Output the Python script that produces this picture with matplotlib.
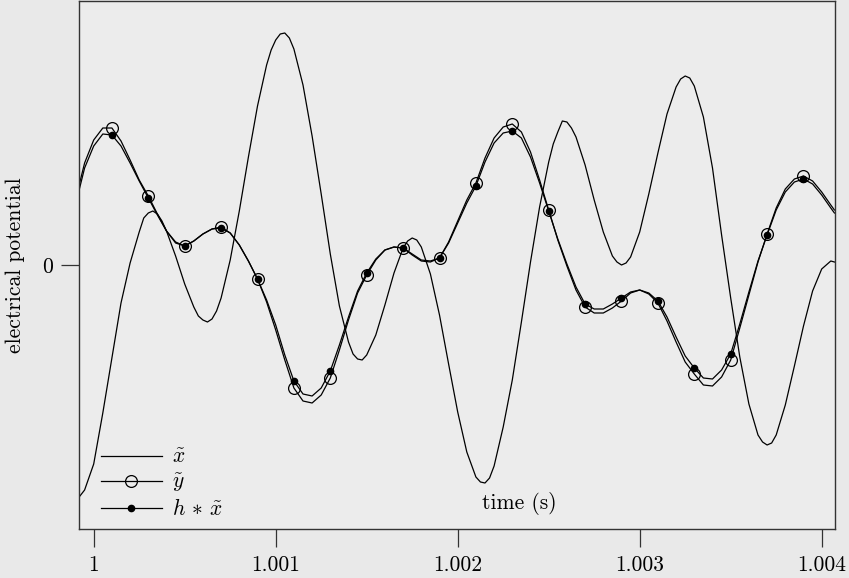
import numpy as np
import matplotlib
matplotlib.use('Agg')
import matplotlib.pyplot as plt
from matplotlib.lines import Line2D

plt.rcParams['font.family'] = ['cmr10', 'DejaVu Serif']
plt.rcParams['mathtext.fontset'] = 'cm'
plt.rcParams['axes.unicode_minus'] = False

# tempos (s) do sinal x~ (mais pontos perto dos picos)
t_x = [0.99992, 0.99995, 1.00000, 1.00005, 1.00010, 1.00015, 1.00020, 1.00025, 1.000275, 1.00030,
       1.000325, 1.00035, 1.000375, 1.00040, 1.00045, 1.00050, 1.00055, 1.000575, 1.00060, 1.000625,
       1.00065, 1.000675, 1.00070, 1.00075, 1.00080, 1.00085, 1.00090, 1.00095, 1.000975, 1.00100,
       1.001025, 1.00105, 1.001075, 1.00110, 1.00115, 1.00120, 1.00125, 1.00130, 1.00135, 1.00140,
       1.001425, 1.00145, 1.001475, 1.00150, 1.00155, 1.00160, 1.00165, 1.00170, 1.001725, 1.00175,
       1.001775, 1.00180, 1.00185, 1.00190, 1.00195, 1.00200, 1.00205, 1.00210, 1.002125, 1.00215,
       1.002175, 1.00220, 1.00225, 1.00230, 1.00235, 1.00240, 1.00245, 1.00250, 1.002525, 1.00255,
       1.002575, 1.00260, 1.002625, 1.00265, 1.00270, 1.00275, 1.00280, 1.00285, 1.002875, 1.00290,
       1.002925, 1.00295, 1.00300, 1.00305, 1.00310, 1.00315, 1.00320, 1.003225, 1.00325, 1.003275,
       1.00330, 1.00335, 1.00340, 1.00345, 1.00350, 1.00355, 1.00360, 1.00365, 1.003675, 1.00370,
       1.003725, 1.00375, 1.00380, 1.00385, 1.00390, 1.00395, 1.00400, 1.00405, 1.00407]

x_tilde = [-2.32, -2.25, -1.99, -1.48, -0.93, -0.38, 0.02, 0.33, 0.47, 0.52,
           0.54, 0.51, 0.44, 0.34, 0.09, -0.19, -0.42, -0.51, -0.55, -0.57,
           -0.54, -0.46, -0.33, 0.05, 0.54, 1.08, 1.59, 2.00, 2.15, 2.25,
           2.31, 2.32, 2.27, 2.16, 1.80, 1.29, 0.71, 0.11, -0.41, -0.77,
           -0.89, -0.94, -0.95, -0.90, -0.70, -0.40, -0.08, 0.17, 0.24, 0.27,
           0.25, 0.18, -0.09, -0.50, -0.99, -1.47, -1.87, -2.12, -2.17, -2.18,
           -2.13, -2.01, -1.62, -1.15, -0.57, 0.03, 0.58, 1.03, 1.21, 1.33,
           1.44, 1.43, 1.37, 1.28, 1.00, 0.65, 0.33, 0.09, 0.03, 0.00,
           0.02, 0.08, 0.33, 0.71, 1.12, 1.51, 1.78, 1.86, 1.89, 1.87,
           1.79, 1.48, 0.97, 0.30, -0.33, -0.92, -1.39, -1.70, -1.77, -1.80,
           -1.78, -1.70, -1.40, -1.01, -0.61, -0.26, -0.04, 0.04, 0.03]

# tempos (s) de y~ e h * x~
t = [0.99992, 0.99995, 1.00000, 1.00005, 1.00010, 1.00015, 1.00020, 1.00025, 1.00030, 1.00035,
     1.00040, 1.00045, 1.00050, 1.00055, 1.00060, 1.00065, 1.00070, 1.00075, 1.00080, 1.00085,
     1.00090, 1.00095, 1.00100, 1.00105, 1.00110, 1.00115, 1.00120, 1.00125, 1.00130, 1.00135,
     1.00140, 1.00145, 1.00150, 1.00155, 1.00160, 1.00165, 1.00170, 1.00175, 1.00180, 1.00185,
     1.00190, 1.00195, 1.00200, 1.00205, 1.00210, 1.00215, 1.00220, 1.00225, 1.00230, 1.00235,
     1.00240, 1.00245, 1.00250, 1.00255, 1.00260, 1.00265, 1.00270, 1.00275, 1.00280, 1.00285,
     1.00290, 1.00295, 1.00300, 1.00305, 1.00310, 1.00315, 1.00320, 1.00325, 1.00330, 1.00335,
     1.00340, 1.00345, 1.00350, 1.00355, 1.00360, 1.00365, 1.00370, 1.00375, 1.00380, 1.00385,
     1.00390, 1.00395, 1.00400, 1.00405, 1.00407]

y_tilde = [0.80, 1.02, 1.25, 1.37, 1.37, 1.24, 1.05, 0.85, 0.69, 0.51,
           0.34, 0.22, 0.19, 0.24, 0.31, 0.36, 0.38, 0.32, 0.20, 0.04,
           -0.14, -0.37, -0.65, -0.95, -1.23, -1.36, -1.38, -1.30, -1.13, -0.85,
           -0.55, -0.28, -0.10, 0.05, 0.15, 0.18, 0.17, 0.10, 0.04, 0.03,
           0.07, 0.23, 0.44, 0.65, 0.82, 1.07, 1.27, 1.38, 1.41, 1.33,
           1.13, 0.85, 0.55, 0.25, -0.01, -0.25, -0.42, -0.48, -0.48, -0.43,
           -0.36, -0.28, -0.25, -0.29, -0.38, -0.56, -0.77, -0.97, -1.09, -1.20,
           -1.21, -1.12, -0.95, -0.63, -0.30, 0.03, 0.31, 0.57, 0.76, 0.86,
           0.89, 0.84, 0.73, 0.60, 0.55]

h_conv_x = [0.75, 0.97, 1.19, 1.31, 1.30, 1.19, 1.02, 0.84, 0.67, 0.50,
            0.34, 0.23, 0.19, 0.24, 0.31, 0.36, 0.37, 0.32, 0.20, 0.04,
            -0.14, -0.35, -0.60, -0.90, -1.16, -1.29, -1.31, -1.23, -1.06, -0.80,
            -0.52, -0.26, -0.08, 0.06, 0.15, 0.18, 0.17, 0.11, 0.05, 0.04,
            0.07, 0.22, 0.42, 0.62, 0.79, 1.03, 1.22, 1.32, 1.34, 1.27,
            1.08, 0.82, 0.54, 0.26, 0.01, -0.22, -0.39, -0.44, -0.44, -0.39,
            -0.33, -0.27, -0.25, -0.28, -0.36, -0.52, -0.72, -0.91, -1.03, -1.13,
            -1.14, -1.05, -0.89, -0.59, -0.27, 0.04, 0.30, 0.55, 0.73, 0.83,
            0.86, 0.81, 0.70, 0.57, 0.52]

# instantes de amostragem (marcadores)
sample_t = [1.0001, 1.0003, 1.0005, 1.0007, 1.0009, 1.0011, 1.0013, 1.0015, 1.0017, 1.0019,
            1.0021, 1.0023, 1.0025, 1.0027, 1.0029, 1.0031, 1.0033, 1.0035, 1.0037, 1.0039]

xticks = [1.0, 1.001, 1.002, 1.003, 1.004]
xtick_labels = ['1', '1.001', '1.002', '1.003', '1.004']
yticks = [0]
ytick_labels = ['0']

t = np.array(t)
y_tilde = np.array(y_tilde)
h_conv_x = np.array(h_conv_x)
marks = [int(np.argmin(np.abs(t - s))) for s in sample_t]

fs = 15.5
lw = 0.9

fig = plt.figure(figsize=(8.49, 5.78), dpi=100, facecolor='#e9e9e9')
ax = fig.add_axes([79 / 849, 1 - 529 / 578, 756 / 849, 528 / 578])
ax.set_facecolor('#ececec')

ax.plot(t_x, x_tilde, color='black', lw=lw)
ax.plot(t, y_tilde, color='black', lw=lw)
ax.plot(t[marks], y_tilde[marks], 'o', ms=8.5, mfc='none', mec='black', mew=lw)
ax.plot(t, h_conv_x, color='black', lw=lw)
ax.plot(t[marks], h_conv_x[marks], 'o', ms=4.5, mfc='black', mec='black')

ax.set_xlim(0.9999192, 1.0040731)
ax.set_ylim(-2.64, 2.64)
ax.set_xticks(xticks)
ax.set_xticklabels(xtick_labels)
ax.set_yticks(yticks)
ax.set_yticklabels(ytick_labels)
ax.tick_params(direction='out', length=13, width=0.9, color='#333333', pad=6, labelsize=fs)
for s in ax.spines.values():
    s.set_color('#333333')
    s.set_linewidth(1.0)

ax.text(0.582, 0.049, 'time (s)', transform=ax.transAxes, ha='center', va='center', fontsize=fs)
fig.text(15 / 849, 1 - 265 / 578, 'electrical potential', rotation=90, ha='center', va='center', fontsize=fs)

handles = [
    Line2D([], [], color='black', lw=lw),
    Line2D([], [], color='black', lw=lw, marker='o', ms=8.5, mfc='none', mew=lw),
    Line2D([], [], color='black', lw=lw, marker='o', ms=4.5, mfc='black'),
]
labels = [r'$\tilde{x}$', r'$\tilde{y}$', r'$h\,\ast\,\tilde{x}$']
ax.legend(handles, labels, loc='lower left', bbox_to_anchor=(0.029, 0.018), frameon=False,
          fontsize=fs, handlelength=2.84, handletextpad=0.45, labelspacing=0.2,
          borderpad=0, borderaxespad=0)

fig.savefig('out.png', dpi=100, facecolor=fig.get_facecolor())
